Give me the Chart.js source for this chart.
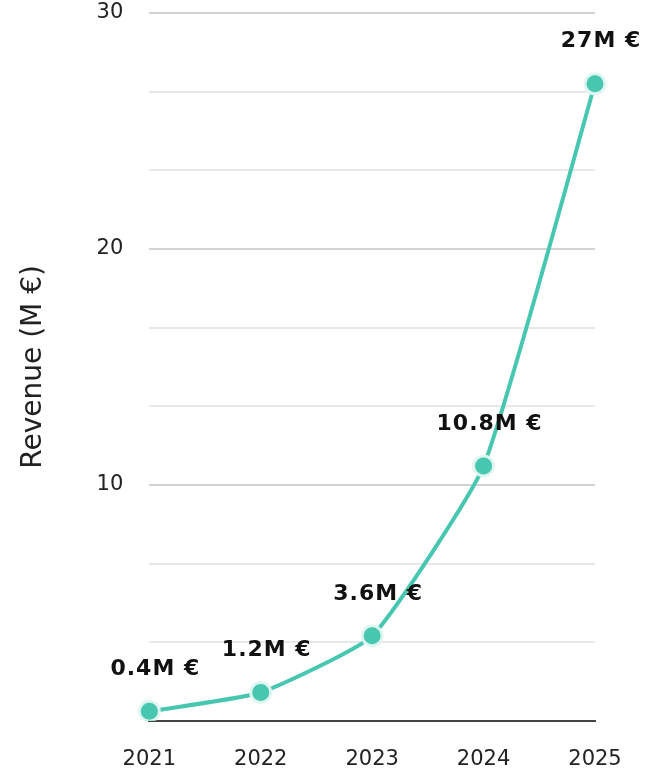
<!DOCTYPE html>
<html>
<head>
<meta charset="utf-8">
<script src="https://cdn.jsdelivr.net/npm/chart.js@4"></script>
<style>
  html, body { margin: 0; padding: 0; background: #fff; overflow: hidden; }
  canvas { display: block; }
</style>
</head>
<body>
<canvas id="revenueChart" width="667" height="773"></canvas>
<script>
// chart data
var years = ["2021", "2022", "2023", "2024", "2025"];
var revenue = [0.4, 1.2, 3.6, 10.8, 27];
var revenueLabels = ["0.4M €", "1.2M €", "3.6M €", "10.8M €", "27M €"];
var yLabelTicks = [10, 20, 30];
var yMax = 30;
var minorPerMajor = 3;

var teal = "rgb(72, 199, 176)";
var fontName = "'DejaVu Sans', sans-serif";

// draws the bold value labels above each point
var valueLabels = {
  id: "valueLabels",
  afterDatasetsDraw: function (chart) {
    var ctx = chart.ctx;
    var meta = chart.getDatasetMeta(0);
    ctx.save();
    ctx.font = "bold 22px " + fontName;
    ctx.letterSpacing = "1px";
    ctx.fillStyle = "#111";
    ctx.textAlign = "center";
    ctx.textBaseline = "middle";
    meta.data.forEach(function (pt, i) {
      ctx.fillText(revenueLabels[i], pt.x + 6, pt.y - 42);
    });
    ctx.restore();
  },
};

var ctx1 = document.getElementById("revenueChart").getContext("2d");
var revenueChart = new Chart(ctx1, {
  type: "line",
  data: {
    labels: years,
    datasets: [
      {
        label: "Revenue",
        data: revenue,
        borderColor: teal,
        borderWidth: 4,
        tension: 0.15,
        pointRadius: 10,
        pointHoverRadius: 10,
        pointBackgroundColor: teal,
        pointBorderColor: "rgba(225, 247, 241, 0.95)",
        pointBorderWidth: 3,
        fill: false,
      },
    ],
  },
  options: {
    responsive: false,
    animation: false,
    layout: { autoPadding: false, padding: { top: 0, right: 72, left: 13, bottom: -25 } },
    plugins: {
      legend: { display: false },
      tooltip: { enabled: false },
    },
    scales: {
      x: {
        grid: { display: false, drawTicks: false },
        border: { display: true, color: "#444", width: 2 },
        ticks: {
          padding: 26,
          color: "#222",
          maxRotation: 0,
          font: { family: fontName, size: 21 },
        },
      },
      y: {
        min: 0,
        max: yMax,
        afterBuildTicks: function (axis) {
          var step = yLabelTicks[0] / minorPerMajor;
          var t = [];
          for (var v = 0; v <= yMax + 0.001; v += step) {
            t.push({ value: Math.round(v * 1000) / 1000 });
          }
          axis.ticks = t;
        },
        // tick padding is otherwise added above and below the axis too
        afterFit: function (axis) {
          axis.paddingTop = 13;
          axis.paddingBottom = 0;
        },
        grid: {
          drawTicks: false,
          lineWidth: 2,
          color: function (c) {
            var v = c.tick.value;
            if (v === 0) return "#444";
            return yLabelTicks.indexOf(v) >= 0 ? "#d2d2d2" : "#e8e8e8";
          },
        },
        border: { display: false },
        ticks: {
          padding: 26,
          color: "#222",
          font: { family: fontName, size: 21 },
          callback: function (value) {
            return yLabelTicks.indexOf(value) >= 0 ? value : "";
          },
        },
        title: {
          display: true,
          text: "Revenue (M €)",
          color: "#222",
          padding: { bottom: 20 },
          font: { family: fontName, size: 28 },
        },
      },
    },
  },
  plugins: [valueLabels],
});
</script>
</body>
</html>
